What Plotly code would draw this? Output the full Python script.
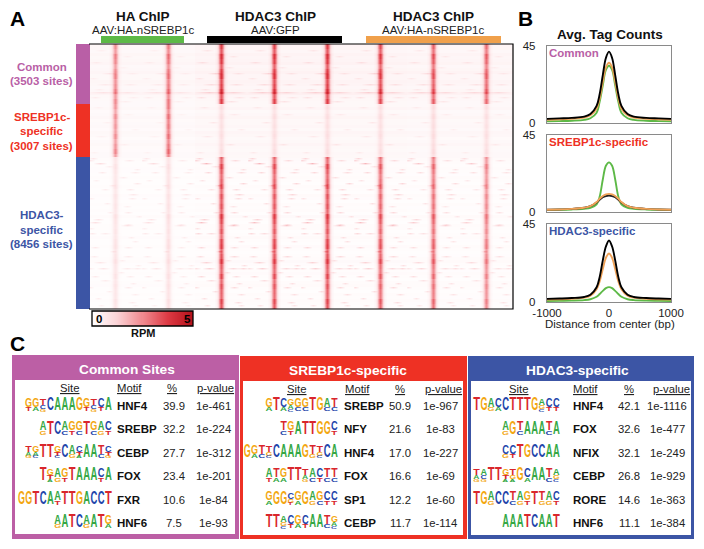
import numpy as np
import plotly.graph_objects as go

W, H = 704, 549
FONT = "Liberation Sans"

# ---------- A: heatmap data ----------
cluster_names = ["Common", "SREBP1c-specific", "HDAC3-specific"]
cluster_sites = [3503, 3007, 8456]
cluster_rows = [60, 53, 152]
cluster_colors = ["#B95FA6", "#EE3124", "#3C55A5"]
# peak RPM of the eight central stripes in each cluster
stripe_common = [2.3, 2.6, 3.5, 3.4, 3.5, 3.3, 3.0, 2.8]
stripe_srebp = [2.2, 2.7, 0.7, 0.7, 0.7, 0.7, 0.8, 0.7]
stripe_hdac3 = [0.7, 0.8, 3.4, 3.3, 3.4, 3.1, 2.9, 2.5]
stripe_profile = [.03, .06, .14, .32, .6, .85, 1, .85, .6, .32, .14, .06, .03]
panel_bg_gain = [.75, .75, 1, 1, 1, 1, .9, .9]
panel_streak_gain = [.55, .55, 1, 1, 1, 1, .85, .8]
stripe_gain = [
    .95, .85, 1.05, .96, .82, .95, 1.05, .88, .95, 1.08, .85, 1.0,
    .95, .82, 1.0, .88, .94, .86, 1.02, .85, .95, 1.08, .88, .8, 1.02, .9, .82, .88, .98, .82, .95, .88,
    .95, .85, 1.08, 1.0, .86, .95, .8, 1.02, 1.05, .86, .95, 1.08, .9, .85, 1.02, .84, .95, .88, .86, 1.02, .95,
]
row_bg = [
    .32, .29, .25, .35, .27, .32, .36, .25, .29, .38, .28, .27, .35, .32, .25, .29, .42, .28, .24, .21,
    .21, .27, .18, .22, .29, .2, .21, .25, .18, .28, .24, .17, .21, .27, .2, .18, .22, .21,
    .16, .13, .11, .14, .1, .08, .12, .09, .07, .12, .08, .07, .14, .1, .07, .12, .08, .11, .07, .16,
    .09, .07, .12, .11, .07, .09, .14, .08, .07, .13, .09, .07, .08, .12, .16, .1, .07, .08, .13, .09,
    .07, .12, .14, .09, .07, .11, .08, .12, .08, .07, .13,
]
streak_rows = [
    6, 12, 18, 23, 29, 29, 34, 40, 40, 45, 48, 48, 53, 53, 57,
    63, 70, 78, 85, 92, 100, 108,
    114, 116, 116, 119, 122, 125, 128, 128, 133, 136, 139, 141, 145, 145, 150, 154, 154, 159, 162,
    168, 168, 172, 175, 178, 180, 181, 184, 189, 189, 193, 197, 203, 203, 207, 212, 212, 216,
    218, 221, 224, 224, 224, 224, 228, 232, 232, 236, 239, 243, 243, 247, 250, 254, 258, 261, 261,
]
streak_cols = [
    -14, 12, -19, 8, -6, 17, -22, -10, 15, -16, -12, 12, -20, 18, 10,
    -17, 13, -8, 20, -14, 9, -21,
    -22, -25, 14, -15, -6, 22, -13, 20, 8, -19, 22, -3, 15, -10, 18, 17, -24, -8, 12,
    13, -5, 24, -17, -20, 13, 12, -24, -23, -10, 16, 20, -20, 13, -2, 13, -21, 7,
    -15, 23, -12, 12, 22, -25, 6, -20, 15, -10, 18, -25, 13, -6, 20, -17, 17, 20, -14,
]
streak_lens = [
    6, 5, 6, 5, 7, 6, 5, 8, 7, 5, 14, 12, 5, 6, 7,
    5, 6, 5, 4, 6, 5, 4,
    4, 4, 5, 6, 4, 3, 4, 5, 4, 3, 4, 3, 4, 4, 5, 4, 3, 3, 4,
    4, 3, 3, 5, 6, 4, 6, 3, 4, 5, 3, 3, 4, 4, 3, 5, 4, 3,
    6, 3, 6, 6, 5, 4, 3, 4, 4, 5, 3, 3, 4, 3, 4, 3, 4, 3, 3,
]
streak_levels = [
    .5, .5, .6, .4, .8, .5, .5, .7, .6, .5, .9, .8, .6, .5, .6,
    .4, .4, .5, .4, .4, .5, .4,
    1.0, 1.0, .9, 1.6, .7, .8, 1.0, .9, .8, .7, 1.1, .7, 1.0, .8, 1.0, .9, .7, .8, .7,
    1.0, .8, .7, 1.2, 1.5, .8, 1.1, .7, 1.0, .9, .8, .8, 1.0, .9, .8, 1.0, .9, .7,
    1.1, .8, 1.2, 1.0, 1.0, .8, .7, 1.0, .9, .9, .8, .8, 1.0, .8, .8, .8, .9, .7, .7,
]
rpm_colorscale = [[0, "#FFFFFF"], [.25, "#FBD3D6"], [.5, "#F08A90"], [.75, "#DE3A44"], [1, "#B5121B"]]

# ---------- B: average tag count curves ----------
bp = [-1000, -800, -600, -400, -300, -200, -150, -100, -50, 0, 50, 100, 150, 200, 300, 400, 600, 800, 1000]
common_hdac_gfp = [2.4, 2.7, 3.0, 3.7, 5.2, 10, 17, 28, 38, 41.7, 38, 28, 17, 10, 5.2, 3.7, 3.0, 2.7, 2.4]
common_hdac_ha = [1.9, 2.1, 2.5, 3.2, 4.5, 8.5, 14.5, 24, 32.5, 35.2, 32.5, 24, 14.5, 8.5, 4.5, 3.2, 2.5, 2.1, 1.9]
common_ha = [1.0, 1.1, 1.3, 1.8, 2.8, 6, 12.5, 22, 31, 33.5, 31, 22, 12.5, 6, 2.8, 1.8, 1.3, 1.1, 1.0]
srebp_hdac_gfp = [1.3, 1.5, 1.8, 2.5, 3.4, 5.6, 7.2, 8.6, 9.3, 9.6, 9.3, 8.6, 7.2, 5.6, 3.4, 2.5, 1.8, 1.5, 1.3]
srebp_hdac_ha = [1.3, 1.5, 1.8, 2.5, 3.4, 5.8, 7.8, 9.4, 10.3, 10.6, 10.3, 9.4, 7.8, 5.8, 3.4, 2.5, 1.8, 1.5, 1.3]
srebp_ha = [1.2, 1.3, 1.5, 1.9, 2.4, 4.5, 9, 19, 27, 29, 27, 19, 9, 4.5, 2.4, 1.9, 1.5, 1.3, 1.2]
hdac_hdac_gfp = [1.8, 2.0, 2.3, 2.9, 4.2, 8.5, 14.5, 24, 32, 35.5, 32, 24, 14.5, 8.5, 4.2, 2.9, 2.3, 2.0, 1.8]
hdac_hdac_ha = [1.4, 1.6, 1.9, 2.5, 3.7, 7.4, 12, 19, 25.5, 28, 25.5, 19, 12, 7.4, 3.7, 2.5, 1.9, 1.6, 1.4]
hdac_ha = [.6, .7, .8, 1.1, 1.6, 3.0, 4.6, 6.4, 8.0, 8.6, 8.0, 6.4, 4.6, 3.0, 1.6, 1.1, .8, .7, .6]
avg_panels = [
    ("Common", cluster_colors[0], [(common_ha, "#5DB947"), (common_hdac_ha, "#F0A257"), (common_hdac_gfp, "#000000")]),
    ("SREBP1c-specific", cluster_colors[1], [(srebp_ha, "#5DB947"), (srebp_hdac_gfp, "#222222"), (srebp_hdac_ha, "#F0A257")]),
    ("HDAC3-specific", cluster_colors[2], [(hdac_ha, "#5DB947"), (hdac_hdac_ha, "#F0A257"), (hdac_hdac_gfp, "#000000")]),
]

# ---------- C: motif tables ----------
common_title = "Common Sites"
common_motifs = ["HNF4", "SREBP", "CEBP", "FOX", "FXR", "HNF6"]
common_pct = ["39.9", "32.2", "27.7", "23.4", "10.6", "7.5"]
common_p = ["1e-461", "1e-224", "1e-312", "1e-201", "1e-84", "1e-93"]
common_logos = [
    ["GT", "GA", "TCG", "C", "A", "A", "A", "G", "GT", "TCG", "CT", "A"],
    ["AG", "T", "C", "AC", "GT", "GC", "T", "GC", "AG", "CT"],
    ["TAG", "GAC", "T", "T", "GTC", "C", "AG", "CTA", "A", "A", "TC", "CTG"],
    ["T", "GTA", "AG", "GT", "T", "A", "A", "A", "CT", "A"],
    ["G", "G", "T", "C", "A", "AT", "T", "T", "G", "A", "C", "C", "T"],
    ["AG", "A", "T", "C", "AG", "A", "T", "GA"],
]
srebp_title = "SREBP1c-specific"
srebp_motifs = ["SREBP", "NFY", "HNF4", "FOX", "SP1", "CEBP"]
srebp_pct = ["50.9", "21.6", "17.0", "16.6", "12.2", "11.7"]
srebp_p = ["1e-967", "1e-83", "1e-227", "1e-69", "1e-60", "1e-114"]
srebp_logos = [
    ["GA", "T", "CA", "GAC", "GC", "GC", "T", "G", "AC", "TC"],
    ["TC", "GT", "A", "T", "T", "G", "G", "CT"],
    ["G", "GA", "TC", "TGC", "C", "A", "A", "A", "G", "TG", "TGC", "C", "A"],
    ["AT", "TA", "GA", "T", "T", "TAG", "AC", "CT", "TC", "TC"],
    ["GA", "G", "G", "CGT", "GA", "G", "AG", "GC", "CT", "CT"],
    ["T", "T", "AGC", "CT", "GA", "CT", "A", "A", "TC", "GAC"],
]
hdac_title = "HDAC3-specific"
hdac_motifs = ["HNF4", "FOX", "NFIX", "CEBP", "RORE", "HNF6"]
hdac_pct = ["42.1", "32.6", "32.1", "26.8", "14.6", "11.1"]
hdac_p = ["1e-1116", "1e-477", "1e-249", "1e-929", "1e-363", "1e-384"]
hdac_logos = [
    ["T", "G", "AG", "CA", "C", "T", "T", "T", "G", "AGC", "CT", "CT"],
    ["AG", "G", "TC", "A", "A", "A", "TC", "A"],
    ["CG", "CT", "T", "G", "C", "C", "A", "A"],
    ["TAG", "ACG", "T", "T", "GTA", "TGA", "G", "CA", "A", "A", "TC", "AGC"],
    ["T", "G", "AG", "C", "C", "TC", "AG", "GT", "T", "TG", "AG", "CT"],
    ["A", "A", "A", "T", "C", "A", "A", "T"],
]
letter_colors = {"A": "#35A845", "C": "#2244AA", "G": "#F3A712", "T": "#D9262C"}

# ---------- build heatmap matrix ----------
n_rows = sum(cluster_rows)
panel_w = 53
n_panels = 8
z = np.zeros((n_rows, panel_w * n_panels))
for p in range(n_panels):
    z[:, p * panel_w:(p + 1) * panel_w] = panel_bg_gain[p]
for i in range(n_rows):
    z[i] *= row_bg[min(i // 3, len(row_bg) - 1)]
stripe_by_cluster = [stripe_common, stripe_srebp, stripe_hdac3]
start = 0
half = len(stripe_profile) // 2
for c, nr in enumerate(cluster_rows):
    for r in range(start, start + nr):
        g = stripe_gain[min(r // 5, len(stripe_gain) - 1)]
        for p in range(n_panels):
            cx = p * panel_w + panel_w // 2
            for k, f in enumerate(stripe_profile):
                z[r, cx + k - half] += stripe_by_cluster[c][p] * g * f
    start += nr
for r, dx, ln, lv in zip(streak_rows, streak_cols, streak_lens, streak_levels):
    for p in range(n_panels):
        cx = p * panel_w + panel_w // 2 + dx
        for k in range(-ln, ln + 1):
            col = cx + k
            if p * panel_w <= col < (p + 1) * panel_w:
                w = 1 - abs(k) / (ln + 1)
                z[r, col] += lv * panel_streak_gain[p] * w
                if r + 1 < n_rows:
                    z[r + 1, col] += .45 * lv * panel_streak_gain[p] * w
z = np.clip(z, 0, 5)

fig = go.Figure()
HX0, HX1, HY0, HY1 = 89.0, 513.0, 44.0, 309.0


def dom_x(a, b):
    return [a / W, b / W]


def dom_y(a, b):
    return [1 - b / H, 1 - a / H]


layout = dict(
    width=W, height=H, autosize=False, margin=dict(l=0, r=0, t=0, b=0, pad=0, autoexpand=False),
    paper_bgcolor="white", plot_bgcolor="rgba(0,0,0,0)", showlegend=False,
    font=dict(family=FONT, color="#222222", size=11),
    xaxis=dict(domain=dom_x(HX0, HX1), range=[-.5, z.shape[1] - .5], visible=False),
    yaxis=dict(domain=dom_y(HY0, HY1), range=[n_rows - .5, -.5], visible=False),
    xaxis2=dict(domain=dom_x(92, 193), visible=False),
    yaxis2=dict(domain=dom_y(311, 326), visible=False),
)
fig.add_trace(go.Heatmap(z=z, zmin=0, zmax=5, colorscale=rpm_colorscale, showscale=False,
                         hoverinfo="skip", xaxis="x", yaxis="y"))
fig.add_trace(go.Heatmap(z=[np.linspace(0, 5, 100)], zmin=0, zmax=5, colorscale=rpm_colorscale,
                         showscale=False, hoverinfo="skip", xaxis="x2", yaxis="y2"))

# ---------- B traces ----------
panel_ys = [(46, 123), (135, 212), (224, 302)]
for i, ((name, col, curves), (y0, y1)) in enumerate(zip(avg_panels, panel_ys)):
    n = i + 3
    xa, ya = f"x{n}", f"y{n}"
    for vals, c in curves:
        fig.add_trace(go.Scatter(x=bp, y=vals, mode="lines", line=dict(color=c, width=1.9, shape="spline"),
                                 hoverinfo="skip", xaxis=xa, yaxis=ya))
    last = i == 2
    layout[f"xaxis{n}"] = dict(domain=dom_x(547, 671), range=[-1000, 1000], anchor=ya, showgrid=False,
                               zeroline=False, showline=True, mirror=True, linecolor="#8A8A8A", linewidth=1.4,
                               tickvals=[-1000, 0, 1000] if last else [],
                               ticktext=["-1000", "0", "1000"] if last else [], ticks="",
                               tickfont=dict(size=11.5, color="#222222"), ticklen=0)
    layout[f"yaxis{n}"] = dict(domain=dom_y(y0, y1), range=[0, 45], anchor=xa, showgrid=False, zeroline=False,
                               showline=True, mirror=True, linecolor="#8A8A8A", linewidth=1.4,
                               tickvals=[0, 45], ticks="outside", tickcolor="rgba(0,0,0,0)", ticklen=8,
                               tickfont=dict(size=11.5, color="#222222"))

# ---------- overlay in pixel units (for tables, labels and logos) ----------
layout["xaxis6"] = dict(domain=[0, 1], range=[0, W], visible=False)
layout["yaxis6"] = dict(domain=[0, 1], range=[H, 0], visible=False)
shapes, annots = [], []


def rect(x0, y0, x1, y1, fill, line=None, lw=0):
    shapes.append(dict(type="rect", xref="x6", yref="y6", x0=x0, y0=y0, x1=x1, y1=y1, fillcolor=fill,
                       line=dict(color=line or fill, width=lw), layer="below"))


def txt(x, y, text, size=11, color="#222222", anchor="center", bold=False):
    annots.append(dict(xref="x6", yref="y6", x=x, y=y, text=f"<b>{text}</b>" if bold else text, showarrow=False,
                       font=dict(size=size, color=color, family=FONT), xanchor=anchor, yanchor="middle",
                       borderpad=0, borderwidth=0))


for letter, x, y in [("A", 17, 18), ("B", 525, 18), ("C", 17, 343)]:
    txt(x, y, letter, 21, "#000000", bold=True)

# A headers
groups = [("HA ChIP", "AAV:HA-nSREBP1c", 143, 101, 184, "#5DB947"),
          ("HDAC3 ChIP", "AAV:GFP", 275, 207, 342, "#000000"),
          ("HDAC3 ChIP", "AAV:HA-nSREBP1c", 433, 366, 501, "#F0A04B")]
for head, sub, cx, a, b, c in groups:
    txt(cx, 16, head, 13.5, "#111111", bold=True)
    txt(cx, 29.5, sub, 11.5, "#222222")
    rect(a, 36, b, 43, c)

# cluster bar and labels
top = HY0
label_lines = [["Common", "(3503 sites)"], ["SREBP1c-", "specific", "(3007 sites)"], ["HDAC3-", "specific", "(8456 sites)"]]
label_ys = [[67, 81], [117, 131, 146], [215, 230, 244]]
for nr, c, lines, ys in zip(cluster_rows, cluster_colors, label_lines, label_ys):
    rect(76, top, 90, top + nr, c)
    top += nr
    for t, y in zip(lines, ys):
        txt(41.5, y, t, 11.5, c, bold=True)

shapes.append(dict(type="path", xref="x6", yref="y6", path=f"M {HX0},{HY0} L {HX1},{HY0} L {HX1},{HY1} L {HX0},{HY1}",
                   line=dict(color="#000000", width=1.2), layer="above"))
shapes.append(dict(type="rect", xref="x6", yref="y6", x0=92, y0=311, x1=193, y1=326,
                   line=dict(color="#000000", width=1.3), layer="above"))
txt(98.5, 318.5, "0", 11.5, "#000000", bold=True)
txt(187, 318.5, "5", 11.5, "#000000", bold=True)
txt(143, 333, "RPM", 11, "#111111", bold=True)

# B texts
txt(609.5, 34, "Avg. Tag Counts", 13.5, "#111111", bold=True)
txt(609.5, 324, "Distance from center (bp)", 11.5)
for (name, col, _), y in zip(avg_panels, [53, 142, 231]):
    txt(549, y, name, 11.5, col, anchor="left", bold=True)

# C tables
tables = [
    dict(box=(12, 355, 239, 539), inner=(15, 380, 235, 534), color="#BC5FA5", title=common_title, tx=127,
         site=69, motif=129, pct=172, pval=215, mleft=117, pc=174, pc2=213, right=112,
         motifs=common_motifs, pcts=common_pct, ps=common_p, logos=common_logos),
    dict(box=(240, 356, 467, 539), inner=(243, 381, 463, 535), color="#EE3124", title=srebp_title, tx=348,
         site=296, motif=357, pct=400, pval=443, mleft=344, pc=400, pc2=440, right=338,
         motifs=srebp_motifs, pcts=srebp_pct, ps=srebp_p, logos=srebp_logos),
    dict(box=(468, 356, 694, 539), inner=(471, 381, 691, 535), color="#3C55A5", title=hdac_title, tx=577,
         site=518, motif=585, pct=629, pval=671, mleft=573, pc=629, pc2=667, right=560,
         motifs=hdac_motifs, pcts=hdac_pct, ps=hdac_p, logos=hdac_logos),
]
row_y0, row_step, pos_w = 406.0, 23.4, 7.25
stack_heights = {1: [12.5], 2: [8.5, 4.0], 3: [6.5, 3.5, 2.5]}
lx, ly, lt, lc, ls = [], [], [], [], []
for t in tables:
    rect(*t["box"], t["color"])
    rect(*t["inner"], "#FFFFFF")
    txt(t["tx"], t["box"][1] + 14, t["title"], 13.7, "#FFFFFF", bold=True)
    hy = t["inner"][1] + 8
    txt(t["site"], hy, "<u>Site</u>", 11.3)
    txt(t["motif"], hy, "<u>Motif</u>", 11.3)
    txt(t["pct"], hy, "<u>%</u>", 11.3)
    txt(t["pval"], hy, "<u>p-value</u>", 11.3)
    for i in range(6):
        y = row_y0 + i * row_step
        txt(t["mleft"], y, t["motifs"][i], 11.5, "#111111", anchor="left", bold=True)
        txt(t["pc"], y, t["pcts"][i], 11.3)
        txt(t["pc2"], y, t["ps"][i], 11.3)
        logo = t["logos"][i]
        for j, stack in enumerate(logo):
            xc = t["right"] - pos_w * (len(logo) - j - .5)
            yy = y - 6.5
            for letter, h in zip(stack, stack_heights[len(stack)]):
                lx.append(xc)
                ly.append(yy + h / 2)
                lt.append(letter)
                lc.append(letter_colors[letter])
                ls.append(h * 1.4)
                yy += h

fig.add_trace(go.Scatter(x=lx, y=ly, text=lt, mode="text", textposition="middle center",
                         textfont=dict(color=lc, size=ls, family=FONT, weight="bold"),
                         hoverinfo="skip", xaxis="x6", yaxis="y6"))

layout["shapes"] = shapes
layout["annotations"] = annots
fig.update_layout(**layout)
squeeze = """
document.body.style.margin='0';document.body.style.overflow='hidden';
function squeezeLetters(){
  document.querySelectorAll('.textpoint text').forEach(function(t){
    t.removeAttribute('transform');
    var b=t.getBBox(), s=7.0/b.width, c=b.x+b.width/2;
    t.setAttribute('transform','translate('+c+',0) scale('+s+',1) translate('+(-c)+',0)');
  });
}
squeezeLetters();
"""
fig.write_html("out.html", config={"displayModeBar": False}, post_script=squeeze)
